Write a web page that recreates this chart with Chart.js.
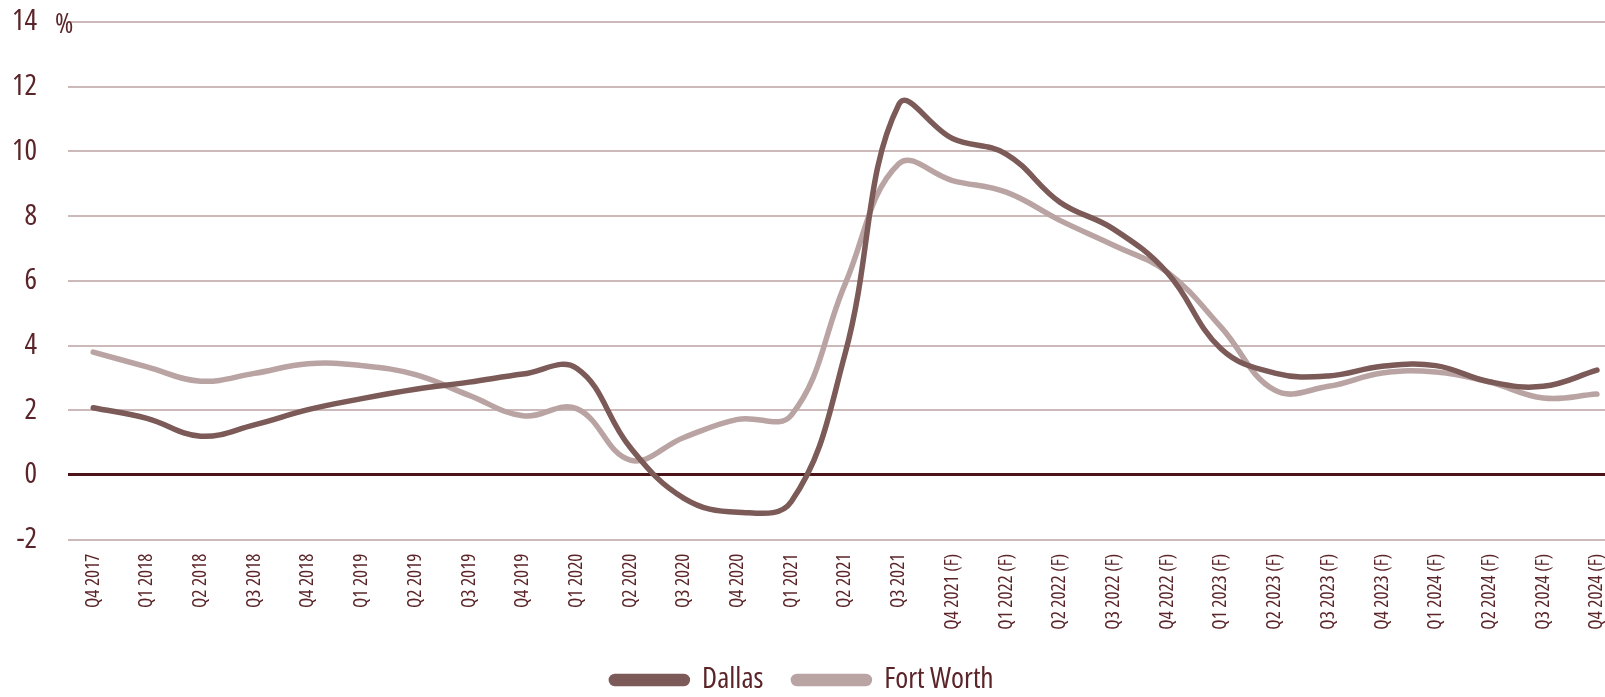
<!DOCTYPE html>
<html>
<head>
<meta charset="utf-8">
<script src="https://cdn.jsdelivr.net/npm/chart.js@4/dist/chart.umd.min.js"></script>
<style>
  html, body { margin: 0; padding: 0; background: #ffffff; }
  #wrap { width: 1605px; height: 697px; position: relative; }
</style>
</head>
<body>
<div id="wrap"><canvas id="c" width="1605" height="697"></canvas></div>
<script>
// Quarterly series, % change
const quarters = [
  'Q4 2017','Q1 2018','Q2 2018','Q3 2018','Q4 2018','Q1 2019','Q2 2019','Q3 2019','Q4 2019',
  'Q1 2020','Q2 2020','Q3 2020','Q4 2020','Q1 2021','Q2 2021','Q3 2021',
  'Q4 2021 (F)','Q1 2022 (F)','Q2 2022 (F)','Q3 2022 (F)','Q4 2022 (F)',
  'Q1 2023 (F)','Q2 2023 (F)','Q3 2023 (F)','Q4 2023 (F)',
  'Q1 2024 (F)','Q2 2024 (F)','Q3 2024 (F)','Q4 2024 (F)'
];
const dallas = [
  2.08, 1.75, 1.2, 1.55, 2.02, 2.36, 2.65, 2.87, 3.12,
  3.3, 0.85, -0.72, -1.15, -0.82, 3.75, 11.45,
  10.4, 9.92, 8.43, 7.6, 6.25,
  3.9, 3.15, 3.06, 3.36,
  3.38, 2.88, 2.74, 3.24
];
const fortWorth = [
  3.8, 3.34, 2.9, 3.14, 3.44, 3.38, 3.1, 2.46, 1.83,
  2.05, 0.46, 1.16, 1.72, 1.85, 5.9, 9.62,
  9.1, 8.74, 7.87, 7.1, 6.27,
  4.57, 2.62, 2.74, 3.15,
  3.18, 2.87, 2.38, 2.5
];
const yTicks = [-2, 0, 2, 4, 6, 8, 10, 12, 14];

const TEXT = '#5a2428';
const DALLAS_COLOR = '#7b5a58';
const FW_COLOR = '#b9a4a3';
const GRID = '#cbbab9';
const ZERO = '#4b1418';

// ---- pick the narrowest locally available sans face ----
const probe = document.createElement('canvas').getContext('2d');
function textWidth(font, text) { probe.font = font; return probe.measureText(text).width; }
function hasFamily(name) {
  const s = 'Fort Worth Q4 2017 (F)';
  return textWidth(`100px '${name}', monospace`, s) !== textWidth('100px monospace', s);
}
function pickFace() {
  const faces = [];
  const sample = 'Fort Worth';
  if (hasFamily('Open Sans Condensed')) faces.push({ family: "'Open Sans Condensed'", weight: '300' });
  ['Open Sans', 'Roboto'].forEach(f => {
    if (!hasFamily(f)) return;
    const plain = textWidth(`100px '${f}'`, sample);
    const narrow = textWidth(`condensed 100px '${f}'`, sample);
    if (narrow < plain * 0.95) faces.push({ family: `'${f}'`, weight: 'condensed' });
  });
  if (hasFamily('Liberation Sans Narrow')) faces.push({ family: "'Liberation Sans Narrow'", weight: 'normal' });
  faces.push({ family: "'DejaVu Sans Condensed', 'DejaVu Sans', sans-serif", weight: 'normal' });
  let best = faces[faces.length - 1], bestW = Infinity;
  faces.forEach(f => {
    const w = textWidth(`${f.weight} 100px ${f.family}`, sample);
    if (w < bestW) { bestW = w; best = f; }
  });
  return best;
}
const FACE = pickFace();
// size from cap height, kept from running wider than the given allowance
function fitSize(text, width, capHeight, slack) {
  const perPx = textWidth(`${FACE.weight} 100px ${FACE.family}`, text) / 100;
  const byHeight = capHeight / 0.72;
  const byWidth = width / perPx;
  return Math.round(Math.min(byHeight, byWidth * slack) * 2) / 2;
}
const Y_SIZE = fitSize('14', 22, 23, 1.15);
const X_SIZE = fitSize('Q1 2020', 55, 15, 1.0);
const LEGEND_SIZE = fitSize('Fort Worth', 104, 22, 1.05);
const font = size => ({ family: FACE.family, weight: FACE.weight, size });

const toPoints = arr => arr.map((v, i) => ({ x: i, y: v }));

// Small "%" unit mark beside the top tick label
const unitMark = {
  id: 'unitMark',
  afterDraw(chart) {
    const { ctx } = chart;
    const y = chart.scales.y.getPixelForValue(14);
    ctx.save();
    ctx.font = `${FACE.weight} ${Y_SIZE * 0.95}px ${FACE.family}`;
    ctx.fillStyle = TEXT;
    ctx.textBaseline = 'middle';
    ctx.textAlign = 'left';
    ctx.fillText('%', 55, y + 3);
    ctx.restore();
  }
};

const H = 697;
const LEGEND_PAD = 30;
const LEGEND_CENTER = 680;
const LEGEND_H = H - LEGEND_CENTER + LEGEND_PAD + LEGEND_SIZE / 2;
const PLOT_BOTTOM = 539.7;
const X_AXIS_H = (H - LEGEND_H) - PLOT_BOTTOM;

new Chart(document.getElementById('c'), {
  type: 'line',
  data: {
    datasets: [
      {
        label: 'Dallas',
        data: toPoints(dallas),
        borderColor: DALLAS_COLOR,
        backgroundColor: DALLAS_COLOR,
        borderWidth: 5.5,
        tension: 0.4,
        pointRadius: 0,
        borderCapStyle: 'round',
        fill: false
      },
      {
        label: 'Fort Worth',
        data: toPoints(fortWorth),
        borderColor: FW_COLOR,
        backgroundColor: FW_COLOR,
        borderWidth: 5.5,
        tension: 0.4,
        pointRadius: 0,
        borderCapStyle: 'round',
        fill: false
      }
    ]
  },
  options: {
    responsive: false,
    animation: false,
    devicePixelRatio: 1,
    layout: { padding: { top: 22, right: 0, left: 0, bottom: 0 } },
    plugins: {
      tooltip: { enabled: false },
      legend: {
        position: 'bottom',
        maxHeight: LEGEND_H,
        labels: {
          color: TEXT,
          font: font(LEGEND_SIZE),
          boxWidth: 76,
          boxHeight: 7,
          useBorderRadius: true,
          borderRadius: 3.5,
          padding: LEGEND_PAD
        }
      }
    },
    scales: {
      x: {
        type: 'linear',
        min: -0.47,
        max: 28.15,
        grid: { display: false, drawTicks: false },
        border: { display: false },
        afterFit(scale) {
          scale.height = X_AXIS_H;
          scale.paddingLeft = 0;
          scale.paddingRight = 0;
        },
        ticks: {
          stepSize: 1,
          includeBounds: false,
          autoSkip: false,
          maxRotation: 90,
          minRotation: 90,
          padding: 14,
          color: TEXT,
          font: font(X_SIZE),
          callback: v => (Number.isInteger(v) ? quarters[v] : '')
        }
      },
      y: {
        min: -2,
        max: 14,
        afterFit(scale) {
          scale.width = 68;
          scale.paddingTop = 22;
          scale.paddingBottom = 0;
        },
        afterBuildTicks(scale) { scale.ticks = yTicks.map(v => ({ value: v })); },
        border: { display: false },
        grid: {
          drawTicks: false,
          color: ctx => (ctx.tick && ctx.tick.value === 0 ? ZERO : GRID),
          lineWidth: ctx => (ctx.tick && ctx.tick.value === 0 ? 3 : 2)
        },
        ticks: {
          padding: 31,
          color: TEXT,
          font: font(Y_SIZE)
        }
      }
    }
  },
  plugins: [unitMark]
});
</script>
</body>
</html>
